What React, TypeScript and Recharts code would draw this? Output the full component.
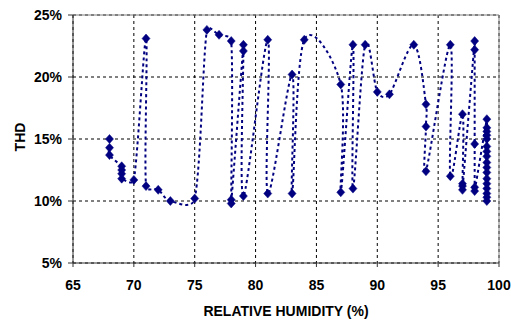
import React from 'react';
import { LineChart, Line, XAxis, YAxis, CartesianGrid, ReferenceLine } from 'recharts';

// Relative humidity (%) for each measurement, in recorded order
const humidity = [
  68, 68, 68, 69, 69, 69, 69, 70, 71, 71, 72, 73, 75, 76, 77, 78, 78, 78, 79, 79, 79,
  81, 81, 83, 83, 84, 87, 87, 88, 88, 89, 90, 91, 93, 94, 94, 94, 96, 96, 97, 97, 97, 97,
  98, 98, 98, 98, 98,
  99, 99, 99, 99, 99, 99, 99, 99, 99, 99, 99, 99, 99, 99, 99, 99, 99,
];
// THD (%) for each measurement
const thd = [
  15.0, 14.3, 13.7, 12.8, 12.5, 12.2, 11.8, 11.7, 23.1, 11.2, 10.9, 10.0, 10.2, 23.8, 23.4, 22.9, 10.1, 9.8, 22.6, 22.1, 10.4,
  23.0, 10.6, 20.2, 10.6, 23.0, 19.4, 10.7, 22.6, 11.0, 22.6, 18.8, 18.6, 22.6, 17.8, 16.0, 12.4, 22.6, 12.0, 17.0, 11.4, 11.2, 10.9,
  22.9, 22.2, 14.6, 11.1, 10.8,
  16.6, 15.9, 15.6, 15.3, 15.0, 14.4, 14.0, 13.6, 13.1, 12.7, 12.3, 11.8, 11.4, 11.0, 10.6, 10.3, 10.0,
];
const xTicks = [65, 70, 75, 80, 85, 90, 95, 100];
const yTicks = [5, 10, 15, 20, 25];

const data = humidity.map((x, i) => ({ x, y: thd[i] }));

const NAVY = '#000080';
const FONT = '"Liberation Sans", Arial, sans-serif';

// Excel-like smoothed line: Catmull-Rom Bezier, control arms capped at half the segment
function excelCurve(context: any) {
  let pts: number[][] = [];
  const cap = (dx: number, dy: number, max: number) => {
    const len = Math.hypot(dx, dy);
    if (len > max && len > 0) {
      const s = max / len;
      return [dx * s, dy * s];
    }
    return [dx, dy];
  };
  return {
    areaStart() {},
    areaEnd() {},
    lineStart() {
      pts = [];
    },
    point(x: number, y: number) {
      pts.push([+x, +y]);
    },
    lineEnd() {
      const n = pts.length;
      if (!n) return;
      context.moveTo(pts[0][0], pts[0][1]);
      const t = 1 / 6;
      for (let i = 0; i < n - 1; i++) {
        const p0 = pts[i - 1] || pts[i];
        const p1 = pts[i];
        const p2 = pts[i + 1];
        const p3 = pts[i + 2] || p2;
        const seg = Math.hypot(p2[0] - p1[0], p2[1] - p1[1]);
        const a = cap((p2[0] - p0[0]) * t, (p2[1] - p0[1]) * t, seg / 2);
        const b = cap((p3[0] - p1[0]) * t, (p3[1] - p1[1]) * t, seg / 2);
        context.bezierCurveTo(p1[0] + a[0], p1[1] + a[1], p2[0] - b[0], p2[1] - b[1], p2[0], p2[1]);
      }
    },
  };
}

const Diamond = (props: any) => {
  const { cx, cy, index } = props;
  if (cx == null || cy == null) return <g key={index} />;
  return (
    <path
      key={index}
      d={`M${cx},${cy - 4.5}L${cx + 4},${cy}L${cx},${cy + 4.5}L${cx - 4},${cy}Z`}
      fill={NAVY}
      stroke={NAVY}
      strokeWidth={0.5}
    />
  );
};

export default function App() {
  return (
    <div style={{ position: 'absolute', left: 0, top: 0, background: '#fff' }}>
      <LineChart width={511} height={320} data={data} margin={{ top: 15, right: 12, bottom: 0, left: 0 }}>
        <CartesianGrid stroke="#000" strokeDasharray="3 3" strokeWidth={1} />
        <ReferenceLine y={25} stroke="#808080" strokeWidth={1} />
        <ReferenceLine x={100} stroke="#808080" strokeWidth={1} />
        <XAxis
          type="number"
          dataKey="x"
          domain={[65, 100]}
          ticks={xTicks}
          interval={0}
          allowDataOverflow
          height={57}
          stroke="#333"
          tickSize={4}
          tickMargin={13}
          tick={{ fill: '#000', fontSize: 14, fontWeight: 'bold', fontFamily: FONT }}
          label={{
            value: 'RELATIVE HUMIDITY (%)',
            content: () => (
              <text x={286} y={316} textAnchor="middle" fill="#000" fontSize={14} fontWeight="bold" fontFamily={FONT}>
                RELATIVE HUMIDITY (%)
              </text>
            ),
          }}
        />
        <YAxis
          type="number"
          dataKey="y"
          domain={[5, 25]}
          ticks={yTicks}
          interval={0}
          allowDataOverflow
          width={73}
          stroke="#333"
          tickSize={5}
          tickMargin={6}
          tickFormatter={(v: number) => `${v}%`}
          tick={{ fill: '#000', fontSize: 14, fontWeight: 'bold', fontFamily: FONT }}
          label={{
            value: 'THD',
            content: () => (
              <text
                x={20}
                y={137}
                transform="rotate(-90 20 137)"
                textAnchor="middle"
                dy="0.36em"
                fill="#000"
                fontSize={14}
                fontWeight="bold"
                fontFamily={FONT}
              >
                THD
              </text>
            ),
          }}
        />
        <Line
          dataKey="y"
          type={excelCurve as any}
          stroke={NAVY}
          strokeWidth={2}
          strokeDasharray="3 3"
          dot={Diamond}
          activeDot={false}
          isAnimationActive={false}
        />
      </LineChart>
    </div>
  );
}
